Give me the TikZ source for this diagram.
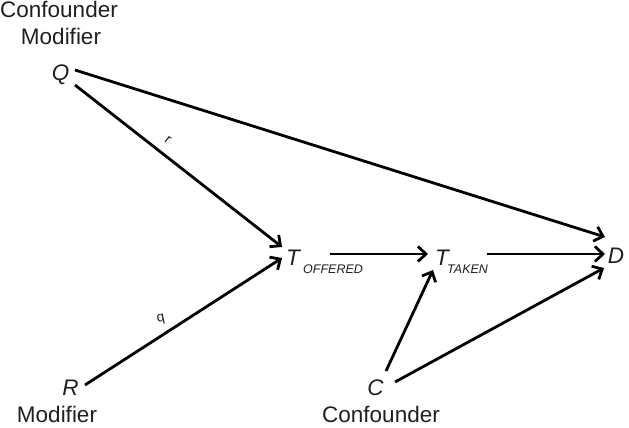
\documentclass[tikz,border=0pt]{standalone}
\usepackage{fontspec}
\setmainfont{Liberation Sans}
\usetikzlibrary{arrows.meta,calc}
\begin{document}
\begin{tikzpicture}[x=1pt,y=-1pt,
  big/.style={inner sep=0pt,font=\fontsize{22.5}{27}\selectfont,text=black!88},
  var/.style={big,font=\fontsize{22.5}{27}\selectfont\itshape},
  sub/.style={inner sep=0pt,font=\fontsize{12.5}{14}\selectfont\itshape,text=black!88},
  small/.style={inner sep=0pt,font=\fontsize{14}{16}\selectfont,text=black!88},
  arr/.style={line width=2.8pt,-{Straight Barb[length=8pt,width=15pt]}}]
\useasboundingbox (0,0) rectangle (629,428);
% titles
\node[big,anchor=base] (t1) at (59,18) {Confounder};
\node[big,anchor=base] (t2) at (61,45) {Modifier};
\node[big,anchor=base] (t3) at (57,422) {Modifier};
\node[big,anchor=base] (t4) at (381,422) {Confounder};
% variables
\node[var,anchor=base] (Q) at (60.5,81) {Q};
\node[var,anchor=base] (R) at (70.5,395) {R};
\node[var,anchor=base] (C) at (375.5,395) {C};
\node[var,anchor=base] (D) at (616,263) {D};
\node[var,anchor=base west] (toff) at (286,265) {T};
\node[sub,anchor=base west] (toffs) at (303,273) {OFFERED};
\node[var,anchor=base west] (ttak) at (435,265) {T};
\node[sub,anchor=base west] (ttaks) at (447,273) {TAKEN};
% connectors
\draw[arr] ($(Q.base)+(14.5,-11)$) -- ($(D.base)+(-11,-26)$);
\draw[arr] ($(Q.base)+(14.5,4)$) -- ($(toff.base west)+(-4,-18)$);
\draw[arr] ($(R.base)+(14.5,-10)$) -- ($(toff.base west)+(-4,-7)$);
\draw[arr] ($(toff.base west)+(44,-11)$) -- ($(ttak.base west)+(-7,-11)$);
\draw[arr] ($(ttak.base west)+(52,-11)$) -- ($(D.base)+(-11,-9)$);
\draw[arr] ($(C.base)+(10.5,-24)$) -- ($(ttak.base west)+(-2,5)$);
\draw[arr] ($(C.base)+(19.5,-13)$) -- ($(D.base)+(-12,5)$);
% edge labels
\node[small,rotate=-37.7] (lr) at (168,140) {r};
\node[small,rotate=12] (lq) at (161,319) {q};
\end{tikzpicture}
\end{document}
